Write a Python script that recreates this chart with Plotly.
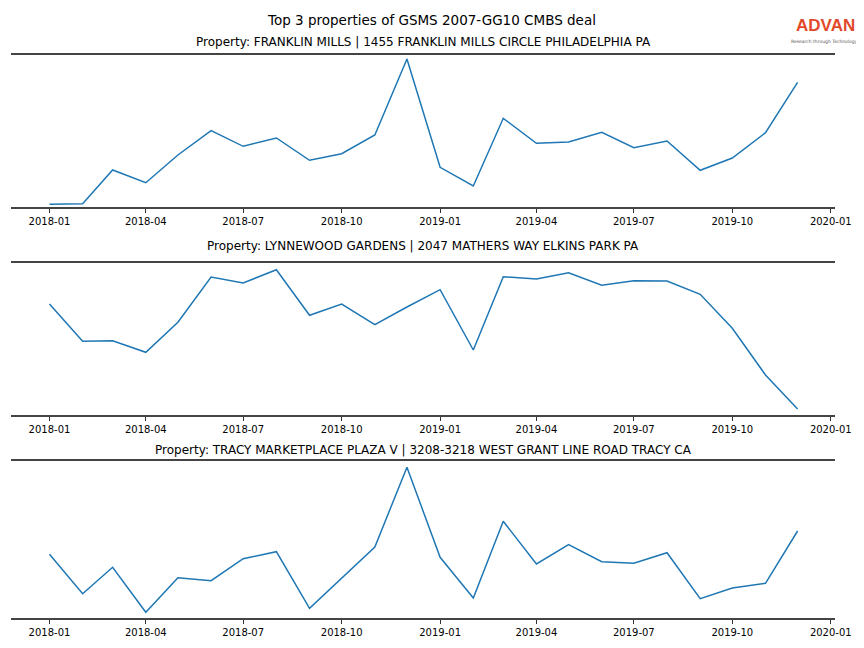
import plotly.graph_objects as go
import pandas as pd

months = pd.date_range("2018-01-01", "2019-12-01", freq="MS").strftime("%Y-%m-%d").tolist()

title_main = "Top 3 properties of GSMS 2007-GG10 CMBS deal"
titles = [
    "Property: FRANKLIN MILLS | 1455 FRANKLIN MILLS CIRCLE PHILADELPHIA PA",
    "Property: LYNNEWOOD GARDENS | 2047 MATHERS WAY ELKINS PARK PA",
    "Property: TRACY MARKETPLACE PLAZA V | 3208-3218 WEST GRANT LINE ROAD TRACY CA",
]

franklin_mills = [2.4, 3.0, 36.7, 24.0, 51.7, 76.0, 60.4, 68.7, 46.4, 53.0, 71.7, 147.7,
                  39.4, 20.7, 88.4, 63.4, 64.7, 74.4, 59.0, 65.7, 36.4, 48.7, 74.0, 124.4]
lynnewood_gardens = [110.7, 73.4, 74.0, 62.4, 92.4, 137.7, 131.7, 145.0, 99.4, 110.7, 90.0, 107.7,
                     125.0, 64.7, 138.0, 135.7, 142.0, 129.4, 134.0, 133.7, 120.4, 86.4, 39.7, 5.7]
tracy_marketplace = [63.4, 24.0, 50.4, 5.4, 40.0, 37.0, 59.0, 66.0, 9.4, 39.4, 70.7, 150.4,
                     60.4, 19.7, 96.4, 53.7, 73.0, 56.0, 54.4, 65.0, 19.0, 29.7, 34.4, 86.7]
y_limits = [[0, 152], [0, 151.7], [0, 157]]

series = [franklin_mills, lynnewood_gardens, tracy_marketplace]

W, H = 864, 648
OFF = 8  # page body offset compensation
ml, mr = 11 - OFF, 28.5 + OFF
panels_px = [(54.7, 206.7), (263.0, 414.7), (460.7, 617.7)]
title_px = [42, 246, 450]


def yp(py):
    return 1 - (py - OFF) / H


def xp(px):
    return (px - OFF - ml) / (W - ml - mr)


fig = go.Figure()
layout = dict(
    width=W, height=H,
    margin=dict(l=ml, r=mr, t=0, b=0),
    paper_bgcolor="white", plot_bgcolor="white",
    showlegend=False,
    font=dict(family="DejaVu Sans", color="black"),
)

annotations = []
for i, (vals, (top, bot)) in enumerate(zip(series, panels_px)):
    n = i + 1
    xa = "x" if n == 1 else f"x{n}"
    ya = "y" if n == 1 else f"y{n}"
    fig.add_trace(go.Scatter(x=months, y=vals, mode="lines",
                             line=dict(color="#1f77b4", width=1.5),
                             xaxis=xa, yaxis=ya))
    layout[f"xaxis{'' if n == 1 else n}"] = dict(
        domain=[0, 1], anchor=ya,
        range=["2017-11-26 01:12", "2020-01-04 22:48"],
        tick0="2018-01-01", dtick="M3", tickformat="%Y-%m",
        ticks="outside", ticklen=4, tickwidth=1, tickcolor="#333",
        showline=True, mirror=True, linecolor="#444", linewidth=2,
        showgrid=False, zeroline=False,
        tickfont=dict(size=10, family="DejaVu Sans", color="black"),
    )
    layout[f"yaxis{'' if n == 1 else n}"] = dict(
        domain=[yp(bot), yp(top)], anchor=xa, range=y_limits[i],
        showticklabels=False, ticks="", showgrid=False, zeroline=False, showline=False,
    )
    annotations.append(dict(
        text=titles[i], xref="paper", yref="paper", x=xp(423.5), y=yp(title_px[i]),
        xanchor="center", yanchor="middle", showarrow=False,
        font=dict(size=12, family="DejaVu Sans", color="black"),
    ))

annotations.append(dict(
    text=title_main, xref="paper", yref="paper", x=xp(432), y=yp(20),
    xanchor="center", yanchor="middle", showarrow=False,
    font=dict(size=13.5, family="DejaVu Sans", color="black"),
))
annotations.append(dict(
    text="<b>ADVAN</b>", xref="paper", yref="paper",
    x=xp(826), y=yp(36.5),
    xanchor="center", yanchor="bottom", showarrow=False,
    font=dict(size=17, family="Liberation Sans", color="#e2492a"),
))
annotations.append(dict(
    text="Research through Technology", xref="paper", yref="paper",
    x=xp(825), y=yp(36.5),
    xanchor="center", yanchor="top", showarrow=False,
    font=dict(size=4.5, family="DejaVu Sans", color="#555"),
))
layout["annotations"] = annotations
fig.update_layout(**layout)
fig.write_html("out.html")
